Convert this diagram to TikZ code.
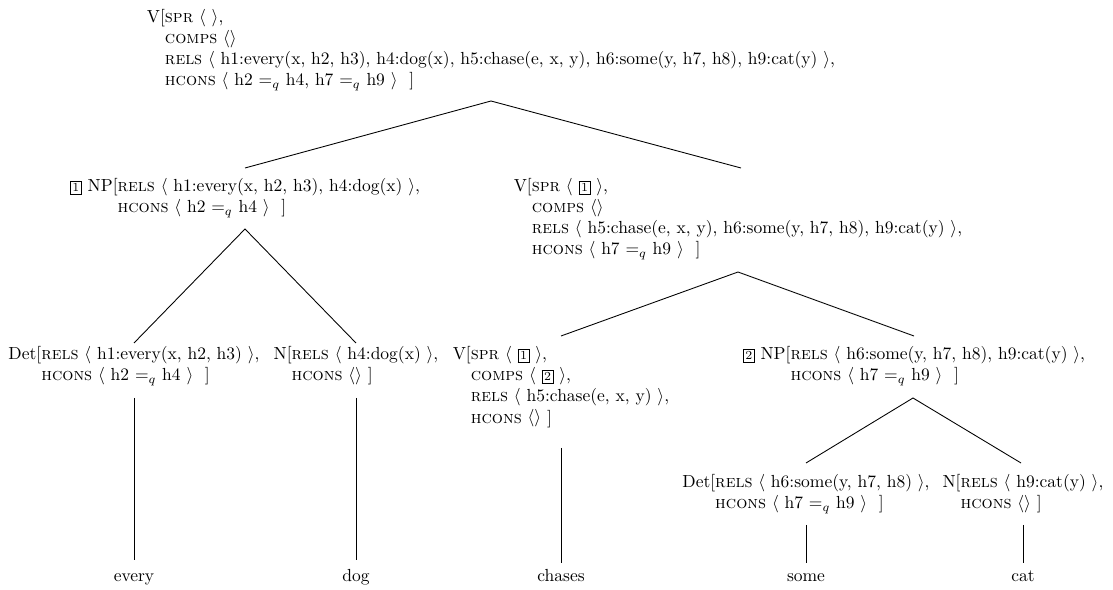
\documentclass[tikz,border=0pt]{standalone}
\newcommand{\tg}[1]{{\setlength{\fboxsep}{1pt}\setlength{\fboxrule}{0.4pt}\fbox{\scriptsize #1}}}
\newcommand{\lb}{$\langle$}
\newcommand{\rb}{$\rangle$}
\newcommand{\eqq}{$=_q$}
\tikzset{
  fs/.style={anchor=base, inner sep=0pt, outer sep=0pt},
  leaf/.style={anchor=base, inner sep=0pt},
  edge/.style={draw=black, line width=0.5pt}
}
\begin{document}
\begin{tikzpicture}[x=0.5714pt,y=-0.5714pt]
\useasboundingbox (0,0) rectangle (1113,590);
% nodes (anchored at horizontal centre, first baseline)
\node[fs] (top) at (491,23) {\begin{tabular}[t]{@{}l@{}}V[\textsc{spr} \lb\ \rb,\\
\phantom{V[}\textsc{comps} \lb\rb\\
\phantom{V[}\textsc{rels} \lb\ h1:every(x, h2, h3), h4:dog(x), h5:chase(e, x, y), h6:some(y, h7, h8), h9:cat(y) \rb,\\
\phantom{V[}\textsc{hcons} \lb\ h2 \eqq\ h4, h7 \eqq\ h9 \rb\ \ ]\end{tabular}};
\node[fs] (np1) at (245,192) {\begin{tabular}[t]{@{}l@{}}\tg{1} NP[\textsc{rels} \lb\ h1:every(x, h2, h3), h4:dog(x) \rb,\\
\phantom{\tg{1} NP[}\textsc{hcons} \lb\ h2 \eqq\ h4 \rb\ \ ]\end{tabular}};
\node[fs] (vp) at (738,192) {\begin{tabular}[t]{@{}l@{}}V[\textsc{spr} \lb\ \tg{1} \rb,\\
\phantom{V[}\textsc{comps} \lb\rb\\
\phantom{V[}\textsc{rels} \lb\ h5:chase(e, x, y), h6:some(y, h7, h8), h9:cat(y) \rb,\\
\phantom{V[}\textsc{hcons} \lb\ h7 \eqq\ h9 \rb\ \ ]\end{tabular}};
\node[fs] (det1) at (134,360) {\begin{tabular}[t]{@{}l@{}}Det[\textsc{rels} \lb\ h1:every(x, h2, h3) \rb,\\
\phantom{Det[}\textsc{hcons} \lb\ h2 \eqq\ h4 \rb\ \ ]\end{tabular}};
\node[fs] (n1) at (356,360) {\begin{tabular}[t]{@{}l@{}}N[\textsc{rels} \lb\ h4:dog(x) \rb,\\
\phantom{N[}\textsc{hcons} \lb\rb\ ]\end{tabular}};
\node[fs] (v) at (561,360) {\begin{tabular}[t]{@{}l@{}}V[\textsc{spr} \lb\ \tg{1} \rb,\\
\phantom{V[}\textsc{comps} \lb\ \tg{2} \rb,\\
\phantom{V[}\textsc{rels} \lb\ h5:chase(e, x, y) \rb,\\
\phantom{V[}\textsc{hcons} \lb\rb\ ]\end{tabular}};
\node[fs] (np2) at (914,360) {\begin{tabular}[t]{@{}l@{}}\tg{2} NP[\textsc{rels} \lb\ h6:some(y, h7, h8), h9:cat(y) \rb,\\
\phantom{\tg{2} NP[}\textsc{hcons} \lb\ h7 \eqq\ h9 \rb\ \ ]\end{tabular}};
\node[fs] (det2) at (806,488) {\begin{tabular}[t]{@{}l@{}}Det[\textsc{rels} \lb\ h6:some(y, h7, h8) \rb,\\
\phantom{Det[}\textsc{hcons} \lb\ h7 \eqq\ h9 \rb\ \ ]\end{tabular}};
\node[fs] (n2) at (1023,488) {\begin{tabular}[t]{@{}l@{}}N[\textsc{rels} \lb\ h9:cat(y) \rb,\\
\phantom{N[}\textsc{hcons} \lb\rb\ ]\end{tabular}};
% leaves
\node[leaf] (w1) at (134,582) {every};
\node[leaf] (w2) at (356,582) {dog};
\node[leaf] (w3) at (561,582) {chases};
\node[leaf] (w4) at (806,582) {some};
\node[leaf] (w5) at (1023,582) {cat};
% attachment points
\coordinate (topB) at (491,101);
\coordinate (np1T) at (245,168);
\coordinate (vpT) at (741,168);
\coordinate (np1B) at (245,229);
\coordinate (det1T) at (134,343);
\coordinate (n1T) at (356,343);
\coordinate (vpB) at (738,272);
\coordinate (vT) at (561,336);
\coordinate (np2T) at (914,336);
\coordinate (np2B) at (913,398);
\coordinate (det2T) at (806,463);
\coordinate (n2T) at (1021,463);
\coordinate (det1B) at (134,398);
\coordinate (n1B) at (356,398);
\coordinate (vB) at (561,448);
\coordinate (det2B) at (806,525);
\coordinate (n2B) at (1023,525);
\coordinate (w1T) at (134,560);
\coordinate (w2T) at (356,560);
\coordinate (w3T) at (561,563);
\coordinate (w4T) at (806,563);
\coordinate (w5T) at (1023,563);
% edges
\draw[edge] (np1T) -- (topB) -- (vpT);
\draw[edge] (det1T) -- (np1B) -- (n1T);
\draw[edge] (vT) -- (vpB) -- (np2T);
\draw[edge] (det2T) -- (np2B) -- (n2T);
\draw[edge] (det1B) -- (w1T);
\draw[edge] (n1B) -- (w2T);
\draw[edge] (vB) -- (w3T);
\draw[edge] (det2B) -- (w4T);
\draw[edge] (n2B) -- (w5T);
\end{tikzpicture}
\end{document}
